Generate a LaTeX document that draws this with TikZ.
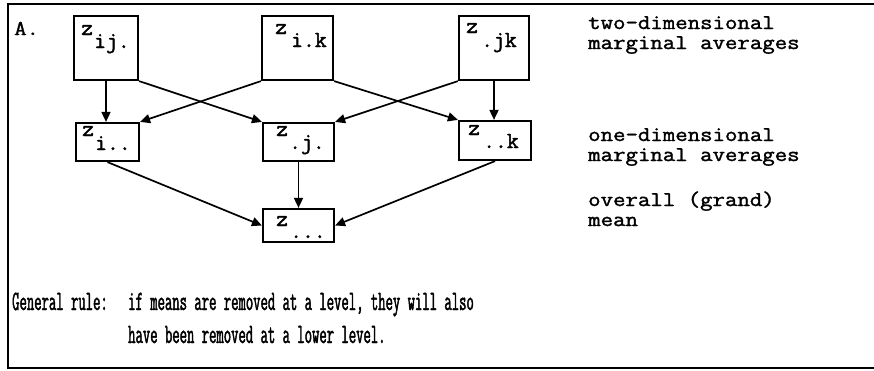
\documentclass[tikz,border=0pt]{standalone}
\usepackage{fontspec}
\newfontfamily\typer{Latin Modern Mono}[FakeBold=1.6]
\newfontfamily\widetyper{Latin Modern Mono}[FakeStretch=1.15,FakeBold=1.6]
\newfontfamily\condmono{Latin Modern Mono}[FakeStretch=0.51,FakeBold=1.5]
\usetikzlibrary{arrows.meta}
\tikzset{
  cell/.style={draw, line width=2.2pt, inner sep=0pt, rectangle},
  tall/.style={cell, minimum height=64pt},
  flat/.style={cell, minimum height=38pt},
  link/.style={line width=1.7pt, -{Triangle[length=10pt,width=9pt]}},
  sym/.style={anchor=base west, inner sep=0pt, font=\fontsize{23pt}{23pt}\typer},
  note/.style={anchor=base west, inner sep=0pt, align=left,
    font=\fontsize{21pt}{20pt}\selectfont\widetyper},
  rule/.style={anchor=base west, inner sep=0pt, font=\fontsize{28pt}{28pt}\condmono},
}
\begin{document}
\begin{tikzpicture}[x=1pt,y=-1pt]
\useasboundingbox (0,0) rectangle (874,370);
% frame
\draw[line width=1.4pt] (874,4) -- (8,4) -- (8,368) -- (874,368);
\node[note] (lab) at (14,35) {A.};

% two-dimensional marginal averages
\node[tall, minimum width=64pt] (ij) at (106,48) {};
\node[tall, minimum width=71pt] (ik) at (297.5,48) {};
\node[tall, minimum width=70pt] (jk) at (494,48) {};
% one-dimensional marginal averages
\node[flat, minimum width=63pt] (i) at (107.5,142) {};
\node[flat, minimum width=71pt] (j) at (298.5,142) {};
\node[flat, minimum width=72pt, minimum height=39pt] (k) at (495,140.5) {};
% grand mean
\node[cell, minimum width=71pt, minimum height=33pt] (g) at (298.5,225.5) {};

% symbols
\node[sym] (ijz) at (81,35) {z};  \node[sym] (ijs) at (94,48) {ij.};
\node[sym] (ikz) at (275,34) {z}; \node[sym] (iks) at (291,47) {i.k};
\node[sym] (jkz) at (466,33) {z}; \node[sym] (jks) at (481,47) {.jk};
\node[sym] (iz) at (82,136) {z};  \node[sym] (is) at (95,150) {i..};
\node[sym] (jz) at (276,136) {z}; \node[sym] (js) at (289,149) {.j.};
\node[sym] (kz) at (468,135) {z}; \node[sym] (ks) at (483,148) {..k};
\node[sym] (gz) at (276,226) {z}; \node[sym] (gs) at (290,238) {...};

% arrows between levels
\draw[link] (ij.south) -- (ij.south |- i.north);
\draw[link] (ij.south east) -- (j.north west);
\draw[link] (ik.south west) -- (i.north east);
\draw[link] (ik.south east) -- (k.north west);
\draw[link] (jk.south west) -- (j.north east);
\draw[link] (jk.south) -- (jk.south |- k.north);
\draw[link] (i.south) -- (g.west);
\draw[link] (j.south) -- (g.north);
\draw[link] (k.south) -- (g.east);

% level descriptions (anchored at the baseline of the last line)
\node[note] (two) at (588,49) {two-dimensional\\marginal averages};
\node[note] (one) at (588,161) {one-dimensional\\marginal averages};
\node[note] (all) at (588,226) {overall (grand)\\mean};

% general rule
\node[rule] (r0) at (12,310) {General rule:};
\node[rule] (r1) at (128,310) {if means are removed at a level, they will also};
\node[rule] (r2) at (128,343) {have been removed at a lower level.};
\end{tikzpicture}
\end{document}
